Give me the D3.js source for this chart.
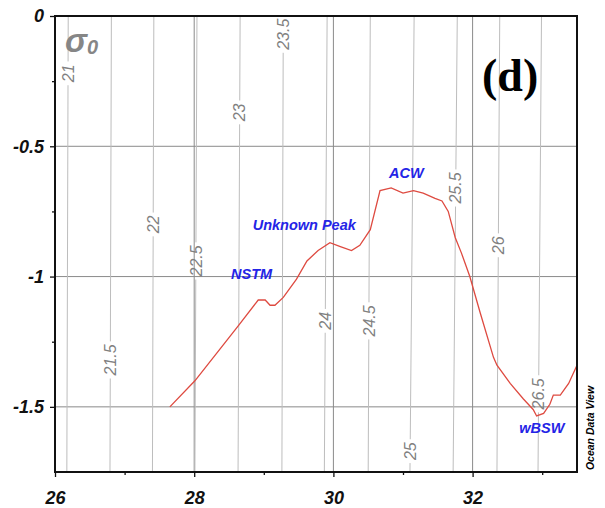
<!DOCTYPE html>
<html>
<head>
<meta charset="utf-8">
<script src="https://cdn.jsdelivr.net/npm/d3@7"></script>
<style>
  body { margin: 0; background: #fff; }
  svg text { font-family: "Liberation Sans", Arial, sans-serif; }
</style>
</head>
<body>
<div id="chart"></div>
<script>
// profile (x = salinity-like axis, y = temperature-like axis)
const profileX = [27.65, 28.01, 28.63, 28.92, 29.02, 29.09, 29.16, 29.28, 29.47, 29.62, 29.78, 29.95,
  30.10, 30.26, 30.38, 30.53, 30.67, 30.83, 31.00, 31.15, 31.29, 31.46, 31.56, 31.65, 31.75, 31.84,
  31.96, 32.11, 32.30, 32.35, 32.54, 32.73, 32.87, 32.92, 33.02, 33.11, 33.16, 33.26, 33.38, 33.50]
const profileY = [-1.50, -1.40, -1.19, -1.09, -1.09, -1.11, -1.11, -1.08, -1.01, -0.94, -0.90, -0.87,
  -0.885, -0.90, -0.88, -0.82, -0.67, -0.66, -0.68, -0.67, -0.68, -0.70, -0.71, -0.75, -0.85, -0.91,
  -1.00, -1.14, -1.31, -1.34, -1.41, -1.47, -1.51, -1.535, -1.525, -1.49, -1.455, -1.455, -1.41, -1.34]

// sigma0 isolines: x position where they cross the top (0) and bottom (-1.75) of the frame
const sigmaLevels = [21, 21.5, 22, 22.5, 23, 23.5, 24, 24.5, 25, 25.5, 26, 26.5]
const sigmaTopX = [26.19, 26.81, 27.42, 28.04, 28.66, 29.28, 29.91, 30.53, 31.16, 31.78, 32.39, 32.99]
const sigmaBottomX = [26.17, 26.79, 27.40, 28.01, 28.63, 29.26, 29.87, 30.50, 31.10, 31.72, 32.35, 32.94]
const sigmaLabelY = [-0.22, -1.32, -0.80, -0.94, -0.37, -0.07, -1.17, -1.17, -1.67, -0.66, -0.88, -1.45]

// water mass labels
const massNames = ["NSTM", "Unknown Peak", "ACW", "wBSW"]
const massX = [28.53, 28.84, 30.80, 32.67]
const massY = [-1.01, -0.82, -0.62, -1.60]

const xTicks = [26, 28, 30, 32]
const xMinor = [27, 29, 31, 33]
const yTicks = [0, -0.5, -1, -1.5]
const yMinor = [-0.25, -0.75, -1.25]

const W = 605, H = 508
const margin = { left: 55, top: 16, right: 28, bottom: 36 }

const x = d3.scaleLinear().domain([26, 33.5]).range([margin.left, W - margin.right])
const y = d3.scaleLinear().domain([-1.75, 0]).range([H - margin.bottom, margin.top])

const svg = d3.select("#chart").append("svg")
  .attr("width", W).attr("height", H)

// grid
const grid = svg.append("g").attr("stroke", "#8a8a8a").attr("stroke-width", 1)
yTicks.filter(d => d < 0).forEach(v => {
  grid.append("line").attr("x1", x(26)).attr("x2", x(33.5)).attr("y1", y(v)).attr("y2", y(v))
})
xTicks.filter(d => d > 26).forEach(v => {
  grid.append("line").attr("x1", x(v)).attr("x2", x(v)).attr("y1", y(0)).attr("y2", y(-1.75))
})

// isolines + labels
const iso = svg.append("g")
sigmaLevels.forEach((lev, i) => {
  const xAt = t => sigmaBottomX[i] + (sigmaTopX[i] - sigmaBottomX[i]) * (t + 1.75) / 1.75
  const ly = sigmaLabelY[i]
  const lab = iso.append("text")
    .attr("transform", "translate(" + x(xAt(ly)) + "," + y(ly) + ") rotate(-90)")
    .attr("text-anchor", "middle")
    .attr("dy", "0.36em")
    .style("font-size", "16px")
    .style("font-style", "italic")
    .attr("fill", "#808080")
    .text(lev)
  const half = lab.node().getComputedTextLength() / 2 + 3
  const yTop = y.invert(y(ly) - half), yBot = y.invert(y(ly) + half)
  iso.append("line")
    .attr("x1", x(xAt(0))).attr("y1", y(0))
    .attr("x2", x(xAt(yTop))).attr("y2", y(yTop))
    .attr("stroke", "#bdbdbd")
  iso.append("line")
    .attr("x1", x(xAt(yBot))).attr("y1", y(yBot))
    .attr("x2", x(xAt(-1.75))).attr("y2", y(-1.75))
    .attr("stroke", "#bdbdbd")
})

// profile line
const line = d3.line().x(d => x(d[0])).y(d => y(d[1]))
svg.append("path")
  .datum(profileX.map((v, i) => [v, profileY[i]]))
  .attr("d", line)
  .attr("fill", "none")
  .attr("stroke", "#de4a40")
  .attr("stroke-width", 1.3)

// water mass labels
svg.append("g").selectAll("text")
  .data(massNames).enter().append("text")
  .attr("x", (d, i) => x(massX[i]))
  .attr("y", (d, i) => y(massY[i]))
  .style("font-size", "14.5px")
  .style("font-weight", "bold")
  .style("font-style", "italic")
  .attr("fill", "#2424e6")
  .text(d => d)

// frame
svg.append("rect")
  .attr("x", x(26)).attr("y", y(0))
  .attr("width", x(33.5) - x(26)).attr("height", y(-1.75) - y(0))
  .attr("fill", "none").attr("stroke", "#111").attr("stroke-width", 2)

// axes
const xAxis = svg.append("g")
  .attr("transform", "translate(0," + y(-1.75) + ")")
  .call(d3.axisBottom(x).tickValues(xTicks).tickSize(5).tickPadding(10).tickFormat(d3.format("d")))
const xAxisMinor = svg.append("g")
  .attr("transform", "translate(0," + y(-1.75) + ")")
  .call(d3.axisBottom(x).tickValues(xMinor).tickSize(3).tickFormat(""))
const yAxis = svg.append("g")
  .attr("transform", "translate(" + x(26) + ",0)")
  .call(d3.axisLeft(y).tickValues(yTicks).tickSize(5).tickPadding(6).tickFormat(d => d === 0 ? "0" : String(d)))
const yAxisMinor = svg.append("g")
  .attr("transform", "translate(" + x(26) + ",0)")
  .call(d3.axisLeft(y).tickValues(yMinor).tickSize(3).tickFormat(""))

;[xAxis, xAxisMinor, yAxis, yAxisMinor].forEach(a => {
  a.select(".domain").remove()
  a.selectAll(".tick line").attr("stroke", "#111").attr("stroke-width", 1.3)
  a.selectAll("text")
    .attr("fill", "#111")
    .style("font-family", "'Liberation Sans', Arial, sans-serif")
    .style("font-size", "18px")
    .style("font-weight", "bold")
    .style("font-style", "italic")
})
xAxis.selectAll("text").attr("dy", "0.95em")

// sigma0 title
const sig = svg.append("text")
  .attr("x", 65).attr("y", 52)
  .attr("fill", "#868686")
  .style("font-size", "33px")
  .style("font-weight", "bold")
  .style("font-style", "italic")
sig.append("tspan").text("σ")
sig.append("tspan").attr("dy", 2).style("font-size", "20px").text("0")

// panel letter
svg.append("text")
  .attr("x", 482).attr("y", 91)
  .style("font-family", "'Liberation Serif', 'Times New Roman', serif")
  .style("font-size", "46px")
  .style("font-weight", "bold")
  .attr("fill", "#000")
  .text("(d)")

// ODV credit
svg.append("text")
  .attr("transform", "translate(594,428) rotate(-90)")
  .attr("text-anchor", "middle")
  .style("font-size", "10.5px")
  .style("font-weight", "bold")
  .style("font-style", "italic")
  .attr("fill", "#000")
  .text("Ocean Data View")
</script>
</body>
</html>
